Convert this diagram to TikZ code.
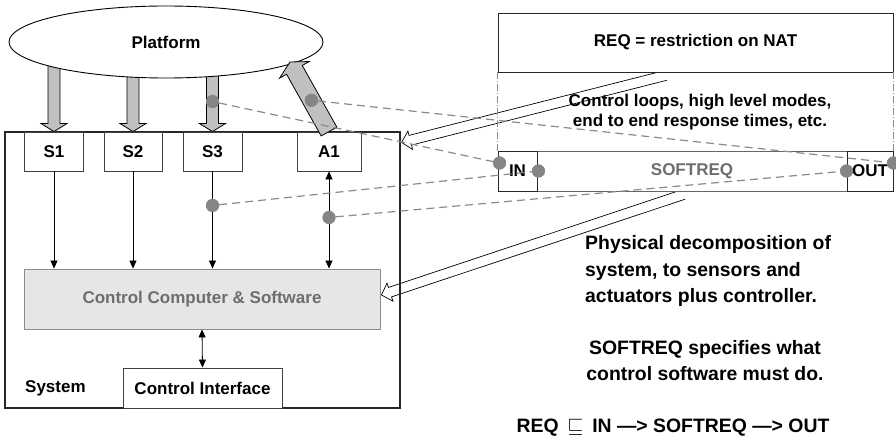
\documentclass[tikz,border=0pt]{standalone}
\usepackage{fontspec}
\setmainfont{Liberation Sans}
\usetikzlibrary{shapes.geometric,calc,arrows.meta}
\pgfdeclarelayer{back}
\pgfsetlayers{back,main}
\definecolor{arrowgray}{HTML}{C0C0C0}
\definecolor{dotgray}{HTML}{858585}
\definecolor{boxfill}{HTML}{E6E6E6}
\definecolor{textgray}{HTML}{6E6E6E}
\definecolor{linegray}{HTML}{8A8A8A}

% broad arrow: style, tail, tip, shaft half width, head half width, head length, path end
\newcommand\broadarrow[7]{%
  \coordinate (ba-base) at ($(#3)!#6!(#2)$);
  \draw[#1] ($(#2)!#4!90:(#3)$) -- ($(ba-base)!#4!-90:(#2)$) -- ($(ba-base)!#5!-90:(#2)$) -- (#3)
    -- ($(ba-base)!#5!90:(#2)$) -- ($(ba-base)!#4!90:(#2)$) -- ($(#2)!#4!-90:(#3)$) #7;}

\begin{document}
\begin{tikzpicture}[x=1pt,y=-1pt,
  lbl/.style={font=\bfseries\fontsize{17}{20}\selectfont},
  side/.style={font=\bfseries\fontsize{19.4}{26.5}\selectfont, inner sep=0pt},
  box/.style={draw=black!75, line width=0.9pt, fill=white, inner sep=0pt, lbl},
  dot/.style={circle, fill=dotgray, inner sep=0pt, minimum size=13pt},
  link/.style={draw=linegray, line width=1.2pt, dash pattern=on 8pt off 5pt},
  tipA/.tip={Triangle[length=8pt,width=7pt]},
  flow/.style={line width=0.8pt, -tipA},
  twoway/.style={line width=0.8pt, tipA-tipA},
  physarrow/.style={draw=black, line width=0.8pt, fill=arrowgray, line join=miter},
  hollow/.style={draw=black, line width=0.7pt, line join=miter}]
\useasboundingbox (0,0) rectangle (896,443);

% platform and system
\node[ellipse, draw=black, line width=0.9pt, fill=white, minimum width=314pt, minimum height=72pt, lbl] (platform) at (166,42) {Platform};
\node[box, draw=black!85, fill=none, line width=1.1pt, minimum width=395pt, minimum height=276pt] (system) at (202.5,270) {};
\node[box, minimum width=59pt, minimum height=39pt] (S1) at (54,151.5) {S1};
\node[box, minimum width=58pt, minimum height=39pt] (S2) at (133,151.5) {S2};
\node[box, minimum width=59pt, minimum height=39pt] (S3) at (212.5,151.5) {S3};
\node[box, minimum width=64pt, minimum height=39pt] (A1) at (329,151.5) {A1};
\node[box, draw=black!45, fill=boxfill, text=textgray, minimum width=356pt, minimum height=60pt] (cc) at (202,299) {Control Computer \& Software};
\node[box, minimum width=159pt, minimum height=40pt] (ci) at (202.5,388) {Control Interface};
\node[lbl, anchor=west, inner sep=0pt] (syslabel) at (25,388) {System};

% requirement boxes
\node[box, draw=black!85, minimum width=395pt, minimum height=59pt] (req) at (695.5,42.5) {REQ = restriction on NAT};
\node[box, draw=black!60, minimum width=395pt, minimum height=40pt] (softreq) at (695.5,171) {};
\node[box, draw=black!85, minimum width=39pt, minimum height=40pt] (in) at (517.5,171) {IN};
\node[box, draw=black!85, minimum width=46pt, minimum height=40pt] (out) at (870,171) {OUT};
\node[lbl, text=textgray] (softlabel) at ($(in.east)!0.5!(out.west)$) {SOFTREQ};
\node[lbl, align=center, inner sep=0pt] (loops) at (700,112) {Control loops, high level modes,\\end to end response times, etc.};
\draw[linegray, line width=0.9pt, dash pattern=on 7pt off 2pt on 1pt off 2pt] (req.south west) -- (softreq.north west);
\draw[linegray, line width=0.9pt, dash pattern=on 7pt off 2pt on 1pt off 2pt] (req.south east) -- (softreq.north east);

% notes
\node[side, align=left, anchor=west] (phys) at (585,271) {Physical decomposition of\\system, to sensors and\\actuators plus controller.};
\node[side, align=center] (spec) at (705,360.5) {SOFTREQ specifies what\\control software must do.};
\node[side] (formula) at (673,428) {REQ\hspace{0.45em}$\sqsubseteq$\hspace{0.45em}IN —> SOFTREQ —> OUT};

% broad arrows between platform and devices
\begin{pgfonlayer}{back}
  \coordinate (t1) at (platform.center -| S1.north);
  \coordinate (t2) at (platform.center -| S2.north);
  \coordinate (t3) at (platform.center -| S3.north);
  \broadarrow{physarrow}{t1}{S1.north}{6pt}{13pt}{8pt}{-- cycle}
  \broadarrow{physarrow}{t2}{S2.north}{6pt}{13pt}{8pt}{-- cycle}
  \broadarrow{physarrow}{t3}{S3.north}{6pt}{13pt}{8pt}{-- cycle}
  % hollow refinement arrows
  \coordinate (reqtail) at ($(req.south)+(-30,3)$);
  \coordinate (systip) at ($(system.north east)+(1,11)$);
  \broadarrow{hollow}{reqtail}{systip}{5pt}{9.5pt}{9pt}{}
  \coordinate (softtail) at ($(softreq.south)+(-12,3)$);
  \coordinate (cctip) at ($(cc.east)+(1,-4)$);
  \broadarrow{hollow}{softtail}{cctip}{5pt}{9.5pt}{9pt}{}
\end{pgfonlayer}
\coordinate (a1tip) at (290,62);
\broadarrow{physarrow}{A1.north}{a1tip}{9pt}{17pt}{9pt}{-- cycle}

% signal flow inside the system
\draw[flow] (S1.south) -- (S1.south |- cc.north);
\draw[flow] (S2.south) -- (S2.south |- cc.north);
\draw[flow] (S3.south) -- (S3.south |- cc.north);
\draw[twoway] (A1.south) -- (A1.south |- cc.north);
\draw[twoway] (cc.south) -- (ci.north);

% tracing points and their links
\node[dot] (p3) at ($(S3.north)+(0,-30)$) {};
\node[dot] (pa) at ($(A1.north)!0.45!(a1tip)$) {};
\node[dot] (s3d) at ($(S3.south)+(0,34)$) {};
\node[dot] (a1d) at ($(A1.south)+(0,46)$) {};
\node[dot] (inL) at ($(in.west)+(2,-8)$) {};
\node[dot] (inR) at ($(in.east)+(1,0)$) {};
\node[dot] (outL) at (out.west) {};
\node[dot] (outR) at ($(out.east)+(0,-8)$) {};
\draw[link] (p3) -- (inL);
\draw[link] (pa) -- (outR);
\draw[link] (s3d) -- (inR);
\draw[link] (a1d) -- (outL);
\foreach \d in {p3,pa,s3d,a1d,inL,inR,outL,outR} \fill[dotgray] (\d) circle (6.5pt);
\end{tikzpicture}
\end{document}
